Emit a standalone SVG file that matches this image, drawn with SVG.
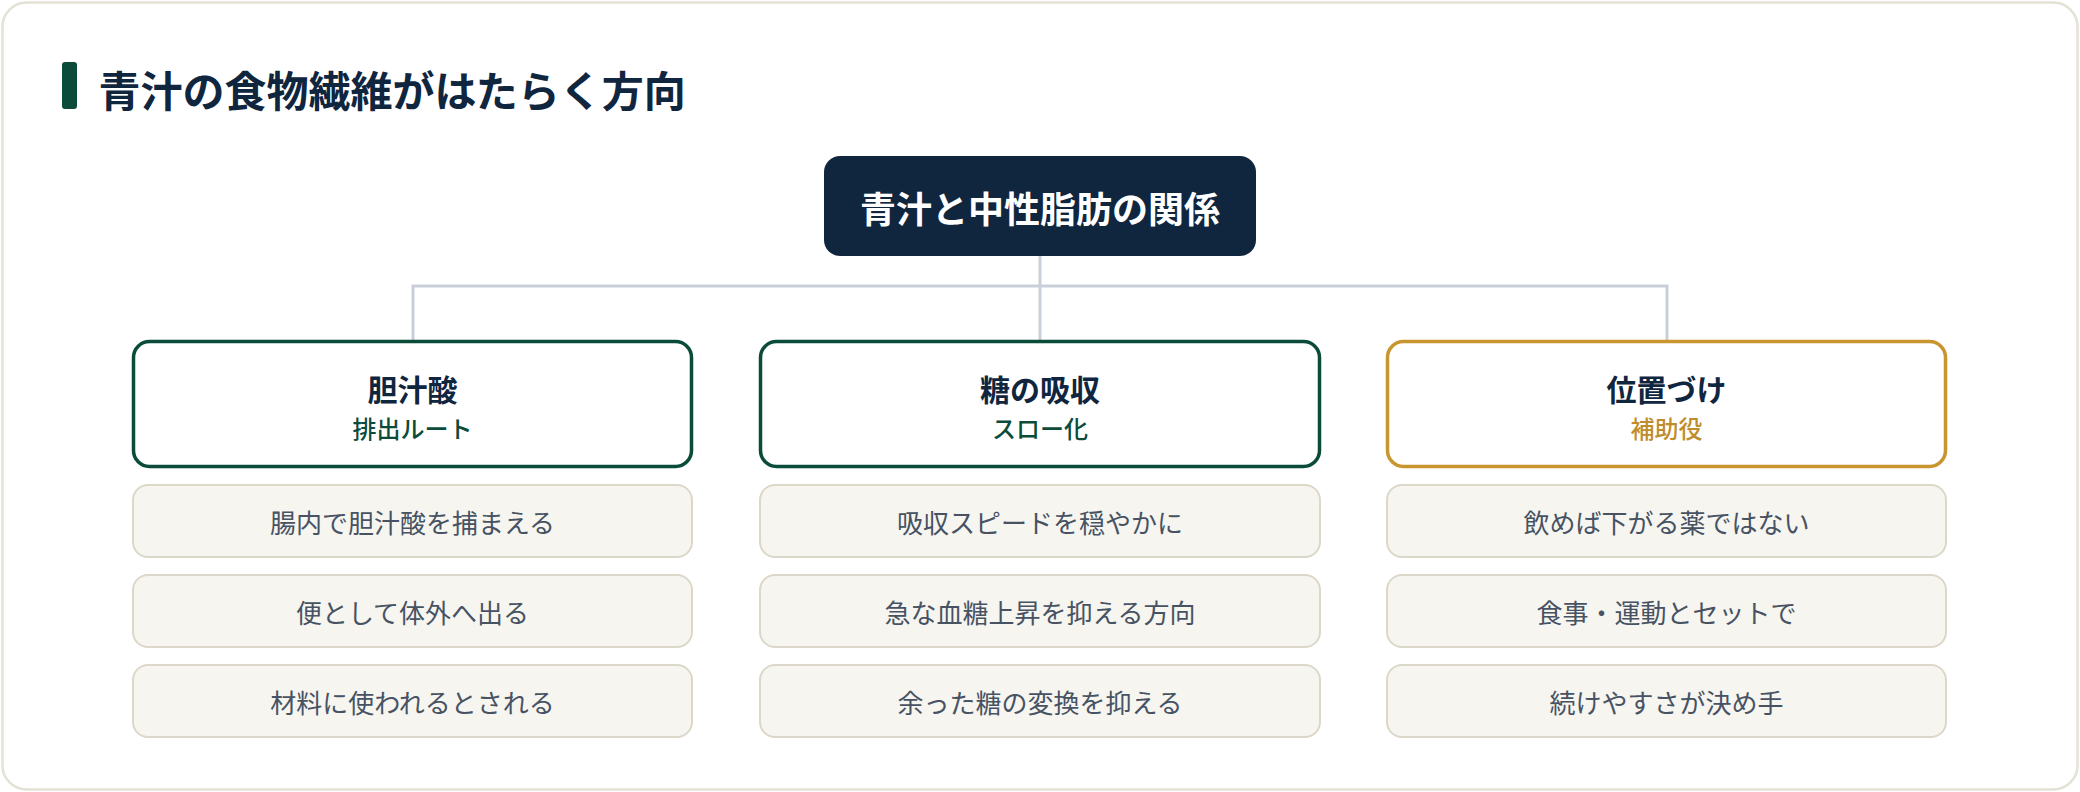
<svg xmlns="http://www.w3.org/2000/svg" width="2080" height="792" viewBox="0 0 2080 792">
  <style>
    text { font-family: "Noto Sans CJK JP", "Noto Sans", sans-serif; dominant-baseline: central; }
    .title { font-size: 42px; font-weight: 700; fill: #10263f; }
    .root-text { font-size: 36px; font-weight: 700; fill: #ffffff; text-anchor: middle; }
    .cat { fill: #ffffff; stroke-width: 3.5; }
    .cat-green { stroke: #0b4b3a; }
    .cat-gold { stroke: #c8952f; }
    .head { font-size: 30px; font-weight: 700; fill: #10263f; text-anchor: middle; }
    .sub { font-size: 24px; font-weight: 500; text-anchor: middle; }
    .sub-green { fill: #0b4b3a; }
    .sub-gold { fill: #bf8d2c; }
    .item { fill: #f6f5f0; stroke: #dcd8c9; stroke-width: 2; }
    .item-text { font-size: 26px; font-weight: 400; fill: #475263; text-anchor: middle; }
    .conn { fill: none; stroke: #c9cfd8; stroke-width: 3; }
  </style>
  <rect x="0" y="0" width="2080" height="792" fill="#ffffff"/>
  <rect id="card" x="2.5" y="2.5" width="2075" height="787" rx="24" ry="24" fill="#ffffff" stroke="#e4e1d5" stroke-width="2.5"/>

  <g id="title">
    <rect x="62" y="62" width="15" height="47" rx="3" fill="#0b4b3a"/>
    <text class="title" x="98.5" y="88">青汁の食物繊維がはたらく方向</text>
  </g>

  <g id="connectors">
    <path class="conn" d="M1040 256 V286 M413 341 V286 H1667 V341 M1040 286 V341"/>
  </g>

  <g id="root">
    <rect x="824" y="156" width="432" height="100" rx="16" ry="16" fill="#10263f"/>
    <text class="root-text" x="1040" y="207">青汁と中性脂肪の関係</text>
  </g>

  <g id="cat-bile">
    <rect class="cat cat-green" x="133.5" y="341.5" width="558" height="125" rx="16" ry="16"/>
    <text class="head" x="412.5" y="388">胆汁酸</text>
    <text class="sub sub-green" x="412.5" y="427">排出ルート</text>
  </g>
  <g id="cat-sugar">
    <rect class="cat cat-green" x="760.5" y="341.5" width="559" height="125" rx="16" ry="16"/>
    <text class="head" x="1040" y="388">糖の吸収</text>
    <text class="sub sub-green" x="1040" y="427">スロー化</text>
  </g>
  <g id="cat-role">
    <rect class="cat cat-gold" x="1387.5" y="341.5" width="558" height="125" rx="16" ry="16"/>
    <text class="head" x="1666.5" y="388">位置づけ</text>
    <text class="sub sub-gold" x="1666.5" y="427">補助役</text>
  </g>

  <g id="item-bile-1">
    <rect class="item" x="133" y="485" width="559" height="72" rx="15" ry="15"/>
    <text class="item-text" x="412.5" y="521">腸内で胆汁酸を捕まえる</text>
  </g>
  <g id="item-bile-2">
    <rect class="item" x="133" y="575" width="559" height="72" rx="15" ry="15"/>
    <text class="item-text" x="412.5" y="611">便として体外へ出る</text>
  </g>
  <g id="item-bile-3">
    <rect class="item" x="133" y="665" width="559" height="72" rx="15" ry="15"/>
    <text class="item-text" x="412.5" y="701">材料に使われるとされる</text>
  </g>

  <g id="item-sugar-1">
    <rect class="item" x="760" y="485" width="560" height="72" rx="15" ry="15"/>
    <text class="item-text" x="1040" y="521">吸収スピードを穏やかに</text>
  </g>
  <g id="item-sugar-2">
    <rect class="item" x="760" y="575" width="560" height="72" rx="15" ry="15"/>
    <text class="item-text" x="1040" y="611">急な血糖上昇を抑える方向</text>
  </g>
  <g id="item-sugar-3">
    <rect class="item" x="760" y="665" width="560" height="72" rx="15" ry="15"/>
    <text class="item-text" x="1040" y="701">余った糖の変換を抑える</text>
  </g>

  <g id="item-role-1">
    <rect class="item" x="1387" y="485" width="559" height="72" rx="15" ry="15"/>
    <text class="item-text" x="1666.5" y="521">飲めば下がる薬ではない</text>
  </g>
  <g id="item-role-2">
    <rect class="item" x="1387" y="575" width="559" height="72" rx="15" ry="15"/>
    <text class="item-text" x="1666.5" y="611">食事・運動とセットで</text>
  </g>
  <g id="item-role-3">
    <rect class="item" x="1387" y="665" width="559" height="72" rx="15" ry="15"/>
    <text class="item-text" x="1666.5" y="701">続けやすさが決め手</text>
  </g>
</svg>
